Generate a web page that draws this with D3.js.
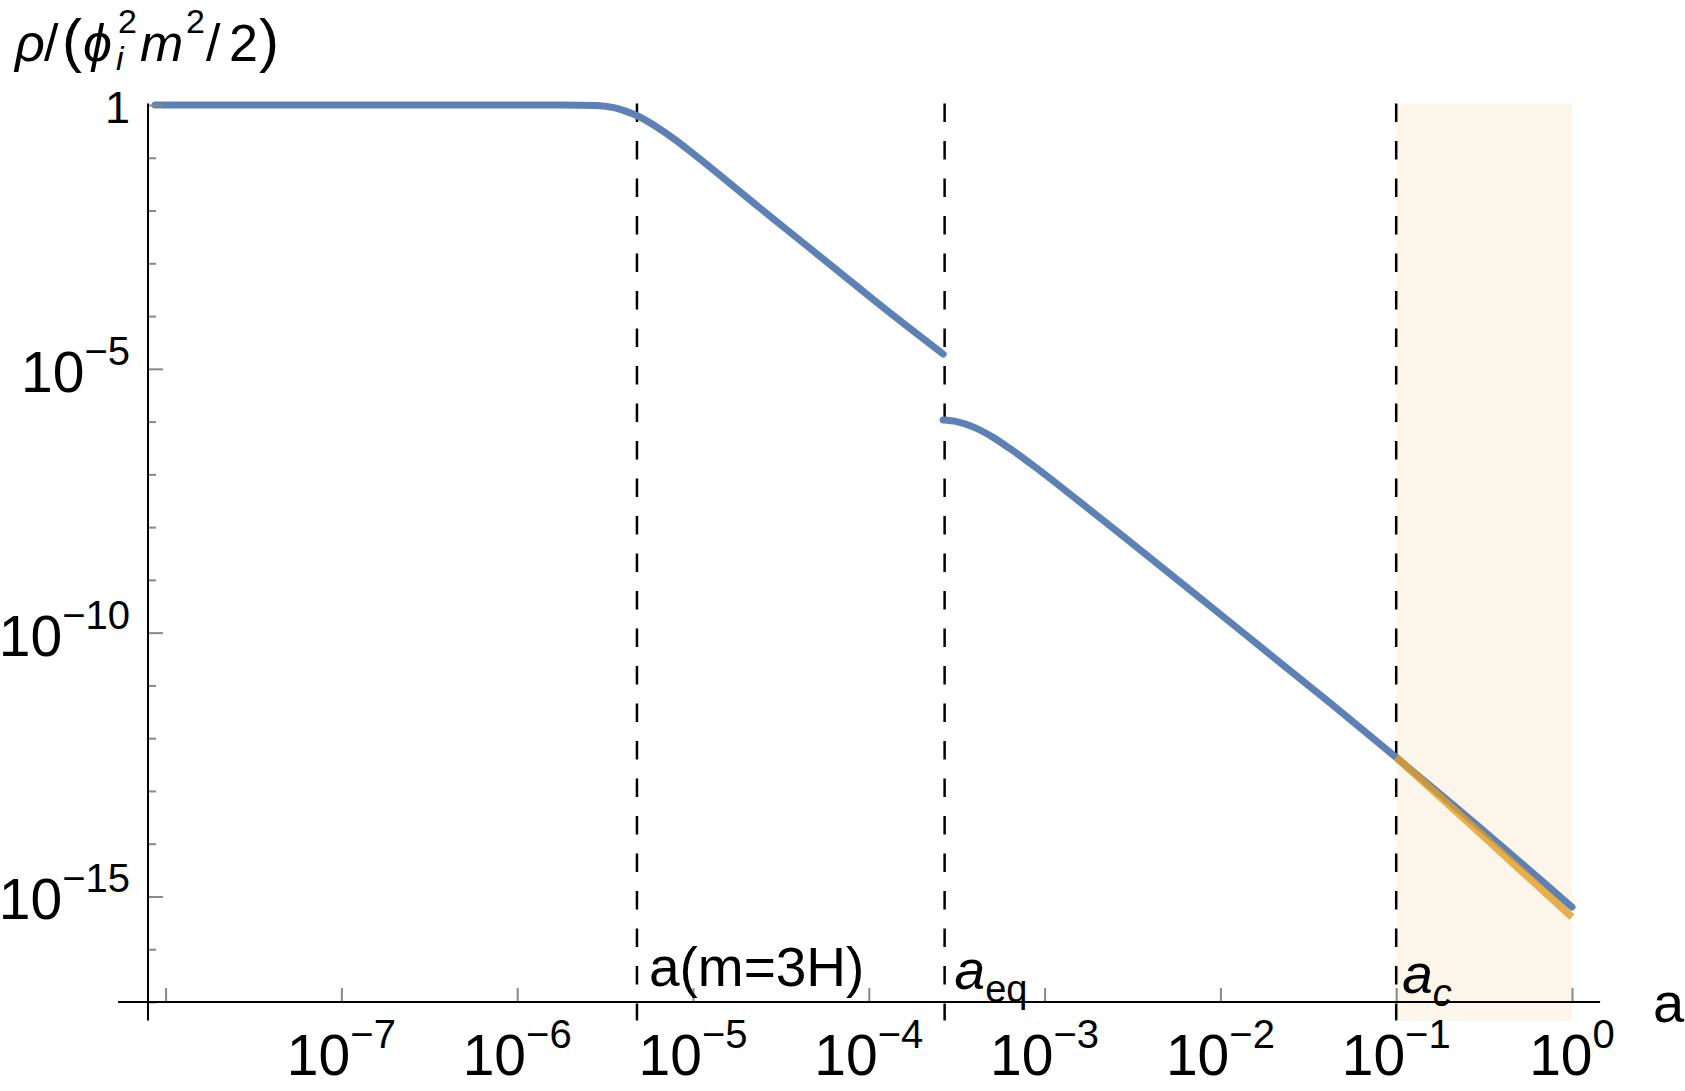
<!DOCTYPE html>
<html>
<head>
<meta charset="utf-8">
<script src="https://cdn.jsdelivr.net/npm/d3@7"></script>
<style>
  body { margin: 0; background: #fff; }
  svg { display: block; font-family: "Liberation Sans", Arial, sans-serif; }
</style>
</head>
<body>
<svg id="chart" width="1685" height="1091"></svg>
<script>
// log10(a) and log10(rho/(phi_i^2 m^2/2))
const earlyLogA   = [-8.06, -6.5, -5.75, -5.55, -5.45, -5.38, -5.32, -5.2, -5.1, -5.0, -4.62, -4.24, -3.86, -3.577];
const earlyLogRho = [0, 0, 0, -0.01, -0.05, -0.12, -0.2, -0.43, -0.66, -0.92, -1.95, -2.97, -3.99, -4.72];
const lateLogA    = [-3.577, -3.5, -3.4, -3.3, -3.2, -3.05, -2.8, -2.5, -2.135, -1.756, -1.377, -1.017, -0.5, 0];
const lateLogRho  = [-5.97, -6.0, -6.11, -6.285, -6.505, -6.87, -7.52, -8.315, -9.29, -10.31, -11.33, -12.32, -13.76, -15.2];
// approximation after a_c (orange)
const approxLogA   = [-1, -0.5, 0];
const approxLogRho = [-12.36, -13.87, -15.39];

// vertical marker lines: a(m=3H), a_eq, a_c
const markerA = [4.8e-6, 2.7e-4, 0.1];

// ticks (exponents of 10)
const xTickExps  = [-8, -7, -6, -5, -4, -3, -2, -1, 0];
const xLabelExps = [-7, -6, -5, -4, -3, -2, -1, 0];
const yTickExps  = d3.range(0, -18, -1);
const yLabelExps = [0, -5, -10, -15];

const blue = "#5e81b5", orange = "#e19c24";

const svg = d3.select("#chart");

const x = d3.scaleLog().domain([10 ** -8.1, 1]).range([148, 1572]);
const y = d3.scaleLog().domain([1e-17, 1]).range([1002, 105]);

const xLo = 10 ** -8.27, xHi = 10 ** 0.16;   // axis line extent
const yLo = 10 ** -17.35, yHi = 10 ** 0.03;

// shaded region a_c .. 1
svg.append("rect")
  .attr("x", x(markerA[2]))
  .attr("width", x(1) - x(markerA[2]))
  .attr("y", y(yHi))
  .attr("height", y(yLo) - y(yHi))
  .attr("fill", orange)
  .attr("fill-opacity", 0.1);

// dashed markers
svg.selectAll(".marker")
  .data(markerA)
  .enter().append("line")
  .attr("class", "marker")
  .attr("x1", d => x(d)).attr("x2", d => x(d))
  .attr("y1", y(yHi)).attr("y2", y(yLo))
  .attr("stroke", "#000")
  .attr("stroke-width", 2.5)
  .attr("stroke-dasharray", "18.5,19");

const line = d3.line()
  .x(d => x(10 ** d[0]))
  .y(d => y(10 ** d[1]))
  .curve(d3.curveMonotoneX);

const early = d3.zip(earlyLogA, earlyLogRho);
const late = d3.zip(lateLogA, lateLogRho);
const approx = d3.zip(approxLogA, approxLogRho);

[early, late].forEach(seg => {
  svg.append("path")
    .attr("d", line(seg))
    .attr("fill", "none")
    .attr("stroke", blue)
    .attr("stroke-width", 7)
    .attr("stroke-linecap", "round")
    .attr("stroke-linejoin", "round");
});

svg.append("path")
  .attr("d", line(approx))
  .attr("fill", "none")
  .attr("stroke", orange)
  .attr("stroke-opacity", 0.8)
  .attr("stroke-width", 7.5);

// axes
const axisX0 = x(10 ** -8.1), axisY0 = y(1e-17);

svg.append("g")
  .attr("transform", `translate(0,${axisY0})`)
  .call(d3.axisBottom(x).tickValues(xTickExps.map(e => 10 ** e)).tickSize(-14).tickFormat(""))
  .call(g => g.select(".domain").remove())
  .call(g => g.selectAll(".tick line").attr("stroke", "#888").attr("stroke-width", 2));

const yAxis = svg.append("g")
  .attr("transform", `translate(${axisX0},0)`)
  .call(d3.axisLeft(y).tickValues(yTickExps.map(e => 10 ** e)).tickSize(-8).tickFormat(""))
  .call(g => g.select(".domain").remove());
yAxis.selectAll(".tick line")
  .attr("stroke", "#888").attr("stroke-width", 2)
  .attr("x2", d => yLabelExps.includes(Math.round(Math.log10(d))) ? 15 : 8);

svg.append("line")
  .attr("x1", x(xLo)).attr("x2", x(xHi))
  .attr("y1", axisY0).attr("y2", axisY0)
  .attr("stroke", "#000").attr("stroke-width", 2);
svg.append("line")
  .attr("x1", axisX0).attr("x2", axisX0)
  .attr("y1", y(yHi)).attr("y2", y(yLo))
  .attr("stroke", "#000").attr("stroke-width", 2);

// tick labels
function powerLabel(sel, e) {
  sel.append("tspan").text("10");
  sel.append("tspan")
    .attr("font-size", 40)
    .attr("dy", -27)
    .text(e === 0 ? "0" : "\u2212" + Math.abs(e));
}

svg.selectAll(".xlab")
  .data(xLabelExps)
  .enter().append("text")
  .attr("class", "xlab")
  .attr("x", d => x(10 ** d))
  .attr("y", axisY0 + 73)
  .attr("text-anchor", "middle")
  .attr("font-size", 57)
  .each(function(d) { powerLabel(d3.select(this), d); });

svg.selectAll(".ylab")
  .data(yLabelExps)
  .enter().append("text")
  .attr("class", "ylab")
  .attr("x", axisX0 - 18)
  .attr("y", d => y(10 ** d) + (d === 0 ? 18 : 23))
  .attr("text-anchor", "end")
  .attr("font-size", d => d === 0 ? 45 : 57)
  .each(function(d) {
    if (d === 0) d3.select(this).text("1");
    else powerLabel(d3.select(this), d);
  });

// axis titles
const title = svg.append("text").attr("y", 61).attr("font-size", 52);
title.append("tspan").attr("x", 15).attr("font-style", "italic").text("\u03c1");
title.append("tspan").attr("x", 44).text("/");
title.append("tspan").attr("x", 62).attr("font-size", 60).text("(");
title.append("tspan").attr("x", 83).attr("font-style", "italic").text("\u03d5");
title.append("tspan").attr("x", 116).attr("dy", 9).attr("font-size", 34).attr("font-style", "italic").text("i");
title.append("tspan").attr("x", 118).attr("dy", -37).attr("font-size", 34).text("2");
title.append("tspan").attr("x", 140).attr("dy", 28).attr("font-style", "italic").text("m");
title.append("tspan").attr("x", 186).attr("dy", -28).attr("font-size", 34).text("2");
title.append("tspan").attr("x", 206).attr("dy", 28).text("/");
title.append("tspan").attr("x", 229).text("2");
title.append("tspan").attr("x", 259).attr("font-size", 60).text(")");

svg.append("text")
  .attr("x", 1653).attr("y", 1022)
  .attr("font-size", 56)
  .text("a");

// marker annotations
svg.append("text")
  .attr("x", x(markerA[0]) + 12).attr("y", 986)
  .attr("font-size", 55)
  .text("a(m=3H)");

const eq = svg.append("text")
  .attr("x", x(markerA[1]) + 10).attr("y", 989)
  .attr("font-size", 55);
eq.append("tspan").attr("font-style", "italic").text("a");
eq.append("tspan").attr("font-size", 38).attr("dy", 13).text("eq");

const ac = svg.append("text")
  .attr("x", x(markerA[2]) + 6).attr("y", 993)
  .attr("font-size", 55);
ac.append("tspan").attr("font-style", "italic").text("a");
ac.append("tspan").attr("font-size", 38).attr("dy", 13).attr("font-style", "italic").text("c");
</script>
</body>
</html>
